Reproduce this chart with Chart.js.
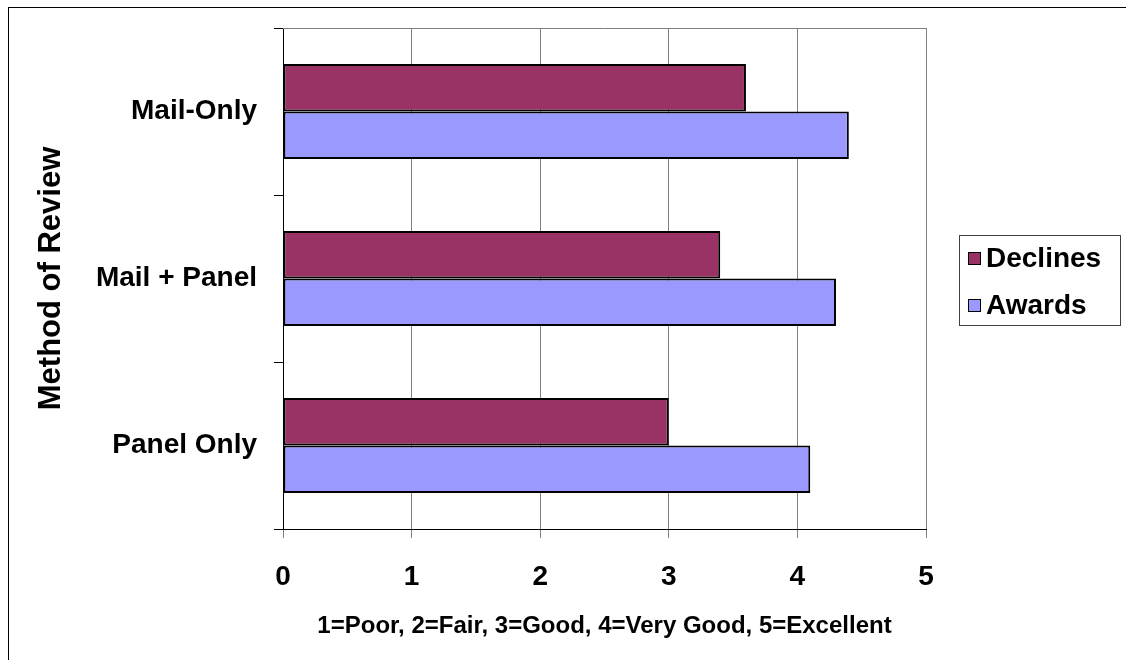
<!DOCTYPE html>
<html>
<head>
<meta charset="utf-8">
<title>Method of Review</title>
<script src="https://cdn.jsdelivr.net/npm/chart.js@4/dist/chart.umd.min.js"></script>
<style>
  html, body { margin: 0; padding: 0; background: #fff; }
  #wrap { width: 1126px; height: 660px; }
</style>
</head>
<body>
<div id="wrap"><canvas id="c" width="1126" height="660"></canvas></div>
<script>
// Review methods, top to bottom
const categories = ['Mail-Only', 'Mail + Panel', 'Panel Only'];
// Mean ratings per method
const declines = [3.6, 3.4, 3.0];
const awards = [4.4, 4.3, 4.1];
// Rating scale ticks
const xTickValues = [0, 1, 2, 3, 4, 5];
const seriesNames = ['Declines', 'Awards'];
const seriesColors = ['#993366', '#9999FF'];
const xTitle = '1=Poor, 2=Fair, 3=Good, 4=Very Good, 5=Excellent';
const yTitle = 'Method of Review';

const FONT = "'Liberation Sans', Arial, Helvetica, sans-serif";

// Frame around the whole chart, plot top edge, and the boxed legend
const decorations = {
  id: 'decorations',
  beforeDatasetsDraw(chart) {
    const { ctx, chartArea: a } = chart;
    ctx.save();
    ctx.strokeStyle = '#808080';
    ctx.lineWidth = 1;
    ctx.beginPath();
    ctx.moveTo(a.left, a.top + 0.5);
    ctx.lineTo(a.right, a.top + 0.5);
    ctx.stroke();
    ctx.restore();
  },
  afterDraw(chart) {
    const { ctx } = chart;
    ctx.save();
    // outer frame
    ctx.strokeStyle = '#000';
    ctx.lineWidth = 1;
    ctx.strokeRect(8.5, 7.5, 1130, 670);

    // legend
    const lx = 959, ly = 235, lw = 161, lh = 90;
    ctx.fillStyle = '#fff';
    ctx.fillRect(lx, ly, lw, lh);
    ctx.strokeStyle = '#404040';
    ctx.strokeRect(lx + 0.5, ly + 0.5, lw, lh);
    ctx.font = "bold 28px " + FONT;
    ctx.textBaseline = 'middle';
    ctx.textAlign = 'left';
    chart.data.datasets.forEach((ds, i) => {
      const cy = 258 + i * 47;
      ctx.fillStyle = ds.backgroundColor;
      ctx.fillRect(968, cy - 6, 13, 13);
      ctx.strokeStyle = '#000';
      ctx.strokeRect(968.5, cy - 5.5, 12, 12);
      ctx.fillStyle = '#000';
      ctx.fillText(ds.label, 986, cy + 1);
    });
    ctx.restore();
  }
};

new Chart(document.getElementById('c'), {
  type: 'bar',
  data: {
    labels: categories,
    datasets: [
      { label: seriesNames[0], data: declines, backgroundColor: seriesColors[0] },
      { label: seriesNames[1], data: awards, backgroundColor: seriesColors[1] }
    ]
  },
  options: {
    indexAxis: 'y',
    responsive: false,
    animation: false,
    events: [],
    layout: { padding: { top: 28, right: 200, bottom: 0, left: 0 } },
    datasets: {
      bar: {
        categoryPercentage: 0.569,
        barPercentage: 1,
        borderColor: '#000',
        borderWidth: 2,
        borderSkipped: false
      }
    },
    plugins: {
      legend: { display: false },
      tooltip: { enabled: false }
    },
    scales: {
      x: {
        min: 0,
        max: 5,
        afterBuildTicks(scale) { scale.ticks = xTickValues.map(v => ({ value: v })); },
        afterFit(scale) { scale.height = 131; },
        ticks: { color: '#000', font: { family: FONT, size: 28, weight: 'bold' }, padding: 22 },
        grid: { color: '#808080', tickColor: '#808080', tickLength: 9, lineWidth: 1 },
        border: { color: '#000', width: 1 },
        title: {
          display: true,
          text: xTitle,
          color: '#000',
          font: { family: FONT, size: 24, weight: 'bold' },
          padding: { top: 0, bottom: 19 }
        }
      },
      y: {
        afterFit(scale) {
          scale.width = 283;
          scale.paddingTop = 0;
          scale.paddingBottom = 0;
        },
        ticks: { color: '#000', font: { family: FONT, size: 28, weight: 'bold' }, padding: 17 },
        grid: { drawOnChartArea: false, color: '#000', tickLength: 9 },
        border: { color: '#000', width: 1 },
        title: {
          display: true,
          text: yTitle,
          color: '#000',
          font: { family: FONT, size: 31, weight: 'bold' },
          padding: { top: 33, bottom: 0 }
        }
      }
    }
  },
  plugins: [decorations]
});
</script>
</body>
</html>
